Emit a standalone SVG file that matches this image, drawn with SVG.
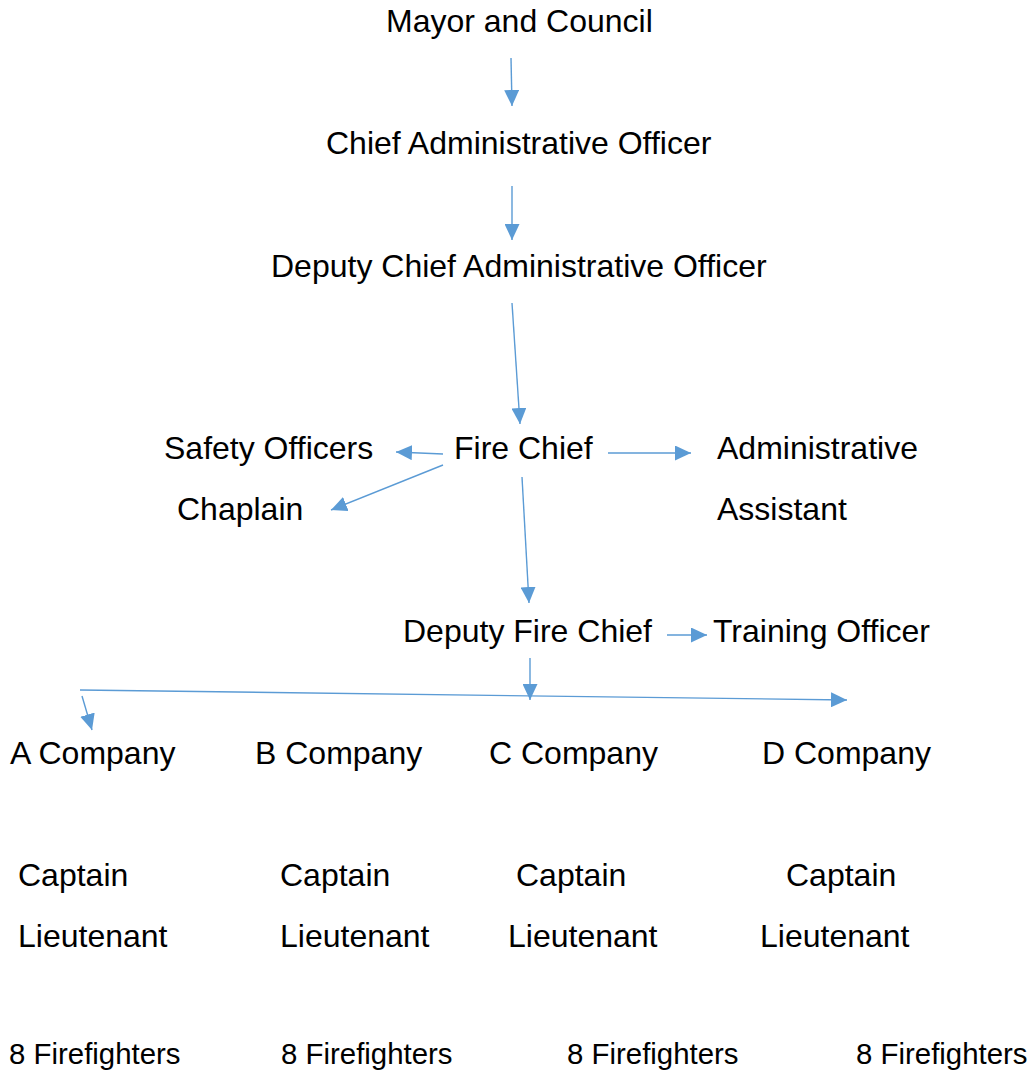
<svg xmlns="http://www.w3.org/2000/svg" width="1032" height="1072" viewBox="0 0 1032 1072">
<style>
text{font-family:"Liberation Sans",Arial,sans-serif;font-size:32px;fill:#000}
.ff{font-size:29.4px}
.c{stroke:#5B9BD5;stroke-width:1.4;fill:none}
.a{marker-end:url(#ah)}
</style>
<defs>
<marker id="ah" markerUnits="userSpaceOnUse" markerWidth="16" markerHeight="15" refX="16" refY="7.5" orient="auto" viewBox="0 0 16 15">
<path d="M0,0 L16,7.5 L0,15 z" fill="#5B9BD5"/>
</marker>
</defs>
<rect width="1032" height="1072" fill="#fff"/>
<g id="connectors">
<line class="c a" x1="511" y1="58" x2="512" y2="106"/>
<line class="c a" x1="512" y1="186" x2="512" y2="240"/>
<line class="c a" x1="512" y1="303" x2="520" y2="424"/>
<line class="c a" x1="443" y1="454" x2="396" y2="452"/>
<line class="c a" x1="443" y1="465" x2="331" y2="510"/>
<line class="c a" x1="608" y1="453" x2="691" y2="453"/>
<line class="c a" x1="522" y1="477" x2="529" y2="603"/>
<line class="c a" x1="667" y1="635" x2="707" y2="635"/>
<line class="c a" x1="530" y1="658" x2="530" y2="700"/>
<line class="c a" x1="80" y1="690" x2="847" y2="700"/>
<line class="c a" x1="82" y1="696" x2="92" y2="730"/>
</g>
<g id="mayor"><text x="386" y="32">Mayor and Council</text></g>
<g id="cao"><text x="326" y="154">Chief Administrative Officer</text></g>
<g id="dcao"><text x="271" y="277">Deputy Chief Administrative Officer</text></g>
<g id="safety"><text x="164" y="459">Safety Officers</text></g>
<g id="firechief"><text x="454" y="459">Fire Chief</text></g>
<g id="admin"><text x="717" y="459">Administrative</text><text x="717" y="520">Assistant</text></g>
<g id="chaplain"><text x="177" y="520">Chaplain</text></g>
<g id="deputyfire"><text x="403" y="642">Deputy Fire Chief</text></g>
<g id="training"><text x="713" y="642">Training Officer</text></g>
<g id="companyA"><text x="10" y="764">A Company</text><text x="18" y="886">Captain</text><text x="18" y="947">Lieutenant</text><text class="ff" x="9" y="1064">8 Firefighters</text></g>
<g id="companyB"><text x="255" y="764">B Company</text><text x="280" y="886">Captain</text><text x="280" y="947">Lieutenant</text><text class="ff" x="281" y="1064">8 Firefighters</text></g>
<g id="companyC"><text x="489" y="764">C Company</text><text x="516" y="886">Captain</text><text x="508" y="947">Lieutenant</text><text class="ff" x="567" y="1064">8 Firefighters</text></g>
<g id="companyD"><text x="762" y="764">D Company</text><text x="786" y="886">Captain</text><text x="760" y="947">Lieutenant</text><text class="ff" x="856" y="1064">8 Firefighters</text></g>
</svg>
